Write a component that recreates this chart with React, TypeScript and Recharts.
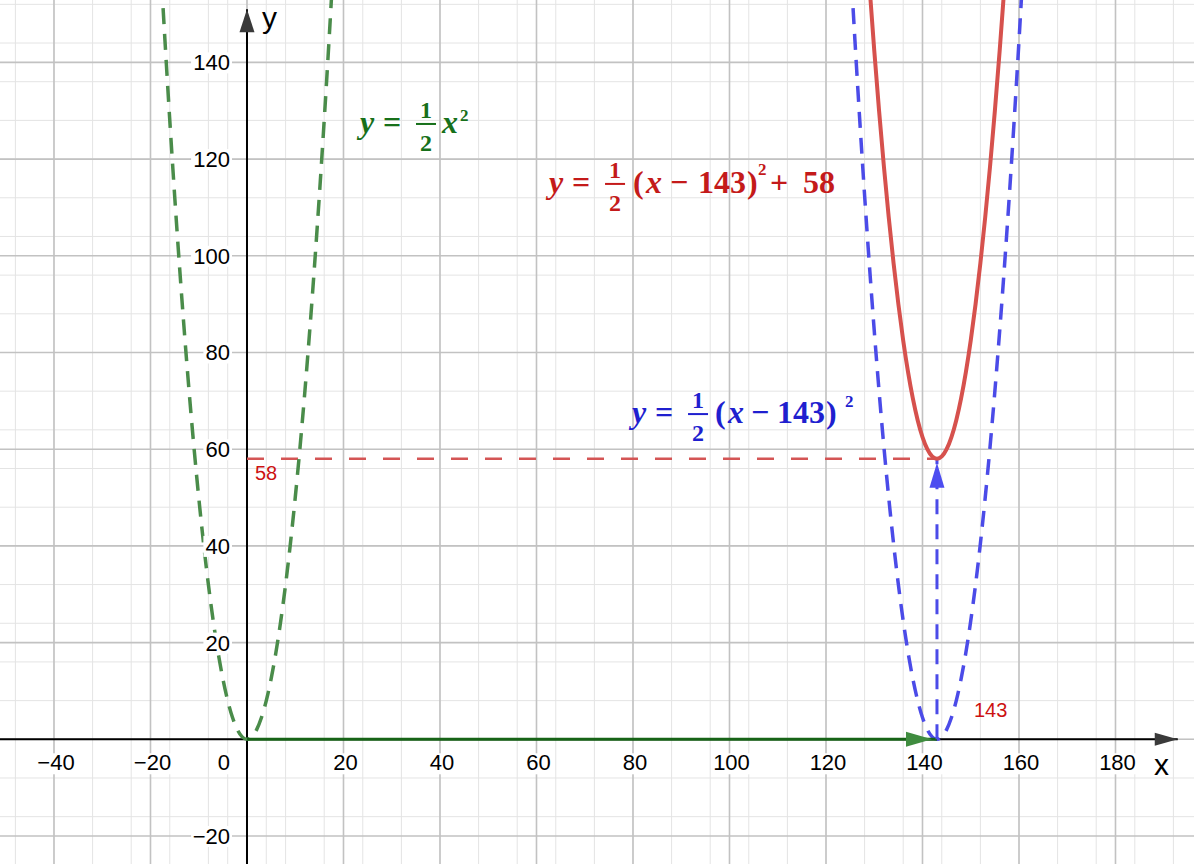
import { LineChart, Line, XAxis, YAxis, CartesianGrid, ReferenceDot } from "recharts";

// visible window of the graph (data units)
const XMIN = -51.19;
const XMAX = 196.27;
const YMIN = -25.79;
const YMAX = 152.9;

// tick labels
const xTicks = [-40, -20, 20, 40, 60, 80, 100, 120, 140, 160, 180];
const yTicks = [-20, 20, 40, 60, 80, 100, 120, 140];

// y = 1/2 x^2
const greenX = [-18, -17, -16, -15, -14, -13, -12, -11, -10, -9, -8, -7, -6, -5, -4, -3, -2, -1, 0, 1, 2, 3, 4, 5, 6, 7, 8, 9, 10, 11, 12, 13, 14, 15, 16, 17, 18];
const greenY = [162, 144.5, 128, 112.5, 98, 84.5, 72, 60.5, 50, 40.5, 32, 24.5, 18, 12.5, 8, 4.5, 2, 0.5, 0, 0.5, 2, 4.5, 8, 12.5, 18, 24.5, 32, 40.5, 50, 60.5, 72, 84.5, 98, 112.5, 128, 144.5, 162];

// y = 1/2 (x - 143)^2
const blueX = [125, 126, 127, 128, 129, 130, 131, 132, 133, 134, 135, 136, 137, 138, 139, 140, 141, 142, 143, 144, 145, 146, 147, 148, 149, 150, 151, 152, 153, 154, 155, 156, 157, 158, 159, 160, 161];
const blueY = [162, 144.5, 128, 112.5, 98, 84.5, 72, 60.5, 50, 40.5, 32, 24.5, 18, 12.5, 8, 4.5, 2, 0.5, 0, 0.5, 2, 4.5, 8, 12.5, 18, 24.5, 32, 40.5, 50, 60.5, 72, 84.5, 98, 112.5, 128, 144.5, 162];

// y = 1/2 (x - 143)^2 + 58
const redX = [129, 130, 131, 132, 133, 134, 135, 136, 137, 138, 139, 140, 141, 142, 143, 144, 145, 146, 147, 148, 149, 150, 151, 152, 153, 154, 155, 156, 157];
const redY = [156, 142.5, 130, 118.5, 108, 98.5, 90, 82.5, 76, 70.5, 66, 62.5, 60, 58.5, 58, 58.5, 60, 62.5, 66, 70.5, 76, 82.5, 90, 98.5, 108, 118.5, 130, 142.5, 156];

const shiftX = [0, 143]; // translation vector along x
const shiftY = [0, 58]; // translation vector along y

const toPoints = (xs: number[], ys: number[]) => xs.map((x, i) => ({ x, y: ys[i] }));
const range = (a: number, b: number, s: number) => {
  const out: number[] = [];
  for (let v = a; v <= b; v += s) out.push(v);
  return out;
};

const greenData = toPoints(greenX, greenY);
const blueData = toPoints(blueX, blueY);
const redData = toPoints(redX, redY);
const xArrow = [
  { x: shiftX[0], y: 0 },
  { x: shiftX[1], y: 0 },
];
const yArrow = [
  { x: shiftX[1], y: shiftY[0] },
  { x: shiftX[1], y: shiftY[1] },
];
const guide58 = [
  { x: 0, y: shiftY[1] },
  { x: shiftX[1], y: shiftY[1] },
];
const xAxisLine = [
  { x: XMIN, y: 0 },
  { x: 192.9, y: 0 },
];
const yAxisLine = [
  { x: 0, y: YMIN },
  { x: 0, y: 151 },
];

const sans = "'Liberation Sans', Arial, Helvetica, sans-serif";
const serif = "'Liberation Serif', 'Times New Roman', serif";

type Piece = { t: string; dx: number; dy?: number; italic?: boolean; size?: number };

const greenTail: Piece[] = [
  { t: "x", dx: 82, italic: true },
  { t: "2", dx: 100, dy: -12, size: 17 },
];
const redTail: Piece[] = [
  { t: "(", dx: 84 },
  { t: "x", dx: 97, italic: true },
  { t: "\u2212", dx: 121 },
  { t: "143", dx: 149 },
  { t: ")", dx: 198 },
  { t: "2", dx: 209, dy: -18, size: 17 },
  { t: "+", dx: 221 },
  { t: "58", dx: 254 },
];
const blueTail: Piece[] = [
  { t: "(", dx: 83 },
  { t: "x", dx: 96, italic: true },
  { t: "\u2212", dx: 119 },
  { t: "143", dx: 145 },
  { t: ")", dx: 194 },
  { t: "2", dx: 213, dy: -16, size: 17 },
];

function Formula({ cx, cy, color, tail }: { cx: number; cy: number; color: string; tail: Piece[] }) {
  return (
    <g fill={color} fontFamily={serif} fontWeight="bold">
      <text x={cx} y={cy} fontSize={32} fontStyle="italic">
        y
      </text>
      <text x={cx + 23} y={cy} fontSize={32}>
        =
      </text>
      <text x={cx + 66} y={cy - 15} fontSize={24} textAnchor="middle">
        1
      </text>
      <rect x={cx + 56} y={cy - 10} width={20} height={2} />
      <text x={cx + 66} y={cy + 18} fontSize={24} textAnchor="middle">
        2
      </text>
      {tail.map((p, i) => (
        <text
          key={i}
          x={cx + p.dx}
          y={cy + (p.dy ?? 0)}
          fontSize={p.size ?? 32}
          fontStyle={p.italic ? "italic" : "normal"}
        >
          {p.t}
        </text>
      ))}
    </g>
  );
}

const fmt = (v: number) => (v < 0 ? `\u2212${Math.abs(v)}` : `${v}`);

function XTickLabel({ cx, cy, value }: { cx: number; cy: number; value: number }) {
  const s = fmt(value);
  const w = s.length * 12.3;
  return (
    <g>
      <rect x={cx + 2 - w / 2 - 2} y={cy + 14} width={w + 4} height={21} fill="#fff" />
      <text x={cx + 2} y={cy + 31} textAnchor="middle" fontFamily={sans} fontSize={22} fill="#000">
        {s}
      </text>
    </g>
  );
}

function YTickLabel({ cx, cy, value }: { cx: number; cy: number; value: number }) {
  const s = fmt(value);
  const w = s.length * 12.3;
  return (
    <g>
      <rect x={cx - 17 - w - 2} y={cy - 10} width={w + 4} height={21} fill="#fff" />
      <text x={cx - 17} y={cy + 8} textAnchor="end" fontFamily={sans} fontSize={22} fill="#000">
        {s}
      </text>
    </g>
  );
}

const xHead = (p: any) =>
  p.index === 1 ? (
    <polygon key="xh" points={`${p.cx},${p.cy} ${p.cx - 23},${p.cy - 6.5} ${p.cx - 23},${p.cy + 6.5}`} fill="#3a3a3a" />
  ) : (
    <g key={`xa${p.index}`} />
  );
const yHead = (p: any) =>
  p.index === 1 ? (
    <polygon key="yh" points={`${p.cx},${p.cy} ${p.cx - 7.5},${p.cy + 23} ${p.cx + 7.5},${p.cy + 23}`} fill="#3a3a3a" />
  ) : (
    <g key={`ya${p.index}`} />
  );
const greenHead = (p: any) =>
  p.index === 1 ? (
    <polygon key="gh" points={`${p.cx - 5},${p.cy} ${p.cx - 31},${p.cy - 7.5} ${p.cx - 31},${p.cy + 7.5}`} fill="#3f8c3f" />
  ) : (
    <g key={`ga${p.index}`} />
  );
const blueHead = (p: any) =>
  p.index === 1 ? (
    <polygon key="bh" points={`${p.cx},${p.cy + 4} ${p.cx - 7.5},${p.cy + 29} ${p.cx + 7.5},${p.cy + 29}`} fill="#4d4df0" />
  ) : (
    <g key={`ba${p.index}`} />
  );

export default function App() {
  return (
    <div style={{ position: "absolute", left: 0, top: 0, background: "#fff" }}>
      <LineChart width={1194} height={864} margin={{ top: 0, right: 0, left: 0, bottom: 0 }}>
        <XAxis type="number" dataKey="x" domain={[XMIN, XMAX]} allowDataOverflow hide />
        <YAxis type="number" dataKey="y" domain={[YMIN, YMAX]} allowDataOverflow hide />
        <CartesianGrid
          verticalValues={range(-48, 192, 4)}
          horizontalValues={range(-24, 152, 4)}
          stroke="#e4e4e4"
          strokeWidth={1}
        />
        <CartesianGrid
          verticalValues={range(-40, 180, 20)}
          horizontalValues={range(-20, 140, 20)}
          stroke="#c2c2c2"
          strokeWidth={1.6}
        />

        {xTicks.map((v) => (
          <ReferenceDot key={`xt${v}`} x={v} y={0} shape={(p: any) => <XTickLabel cx={p.cx} cy={p.cy} value={v} />} />
        ))}
        {yTicks.map((v) => (
          <ReferenceDot key={`yt${v}`} x={0} y={v} shape={(p: any) => <YTickLabel cx={p.cx} cy={p.cy} value={v} />} />
        ))}

        <Line data={xAxisLine} dataKey="y" type="linear" stroke="#000" strokeWidth={2} dot={xHead} activeDot={false} isAnimationActive={false} />
        <Line data={yAxisLine} dataKey="y" type="linear" stroke="#000" strokeWidth={2} dot={yHead} activeDot={false} isAnimationActive={false} />

        <Line data={guide58} dataKey="y" type="linear" stroke="#d45555" strokeWidth={2.5} strokeDasharray="17 17" dot={false} activeDot={false} isAnimationActive={false} />
        <Line data={greenData} dataKey="y" type="monotone" stroke="#4a8c4a" strokeWidth={3.5} strokeDasharray="16 10" dot={false} activeDot={false} isAnimationActive={false} />
        <Line data={blueData} dataKey="y" type="monotone" stroke="#4b4be8" strokeWidth={3.5} strokeDasharray="16 10" dot={false} activeDot={false} isAnimationActive={false} />
        <Line data={xArrow} dataKey="y" type="linear" stroke="#176317" strokeWidth={3} dot={greenHead} activeDot={false} isAnimationActive={false} />
        <Line data={yArrow} dataKey="y" type="linear" stroke="#4b4be8" strokeWidth={3} strokeDasharray="15 10" dot={blueHead} activeDot={false} isAnimationActive={false} />
        <Line data={redData} dataKey="y" type="monotone" stroke="#d6514d" strokeWidth={4} dot={false} activeDot={false} isAnimationActive={false} />

        <ReferenceDot
          x={0}
          y={0}
          shape={(p: any) => (
            <g>
              <rect x={p.cx - 32} y={p.cy + 14} width={16} height={21} fill="#fff" />
              <text x={p.cx - 17} y={p.cy + 31} textAnchor="end" fontFamily={sans} fontSize={22} fill="#000">
                0
              </text>
            </g>
          )}
        />
        <ReferenceDot
          x={0}
          y={shiftY[1]}
          shape={(p: any) => (
            <text x={p.cx + 8} y={p.cy + 21} fontFamily={sans} fontSize={20} fill="#cc1111">
              {shiftY[1]}
            </text>
          )}
        />
        <ReferenceDot
          x={shiftX[1]}
          y={0}
          shape={(p: any) => (
            <text x={p.cx + 37} y={p.cy - 22} fontFamily={sans} fontSize={20} fill="#cc1111">
              {shiftX[1]}
            </text>
          )}
        />
        <ReferenceDot
          x={0}
          y={0}
          shape={(p: any) => (
            <g fontFamily={sans} fontSize={30} fill="#000">
              <text x={p.cx + 15} y={28}>y</text>
              <text x={1154} y={p.cy + 36}>x</text>
            </g>
          )}
        />

        <ReferenceDot x={23.42} y={125.4} shape={(p: any) => <Formula cx={p.cx} cy={p.cy} color="#17701a" tail={greenTail} />} />
        <ReferenceDot x={62.6} y={113.0} shape={(p: any) => <Formula cx={p.cx} cy={p.cy} color="#c41a1a" tail={redTail} />} />
        <ReferenceDot x={79.8} y={65.4} shape={(p: any) => <Formula cx={p.cx} cy={p.cy} color="#1f1fcf" tail={blueTail} />} />
      </LineChart>
    </div>
  );
}
